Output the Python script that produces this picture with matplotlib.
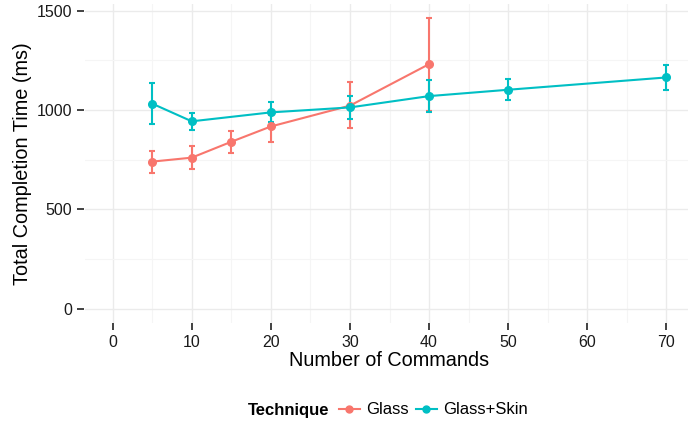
import matplotlib.pyplot as plt
from matplotlib.lines import Line2D
import numpy as np

plt.rcParams['font.family'] = ['Liberation Sans', 'DejaVu Sans']

# Data
glass_x = [5, 10, 15, 20, 30, 40]
glass_y = [740, 760, 840, 917, 1022, 1231]
glass_lo = [684, 705, 785, 837, 907, 996]
glass_hi = [795, 817, 894, 976, 1142, 1461]

skin_x = [5, 10, 20, 30, 40, 50, 70]
skin_y = [1032, 943, 988, 1013, 1070, 1102, 1164]
skin_lo = [928, 899, 938, 954, 990, 1050, 1102]
skin_hi = [1134, 985, 1038, 1071, 1152, 1158, 1226]

x_ticks = [0, 10, 20, 30, 40, 50, 60, 70]
y_ticks = [0, 500, 1000, 1500]

red = '#F8766D'
teal = '#00BFC4'

fig = plt.figure(figsize=(6.88, 4.28), dpi=100)
ax = fig.add_axes([85 / 688, 105 / 428, 609 / 688, 319 / 428])

for xs, ys, lo, hi, c in [(glass_x, glass_y, glass_lo, glass_hi, red),
                          (skin_x, skin_y, skin_lo, skin_hi, teal)]:
    ys = np.array(ys)
    err = [ys - np.array(lo), np.array(hi) - ys]
    ax.errorbar(xs, ys, yerr=err, color=c, marker='o', ms=5.5, lw=1.5,
                elinewidth=1.5, capsize=2.2, capthick=1.5, zorder=3)

ax.set_xlim(-3.5, 73.5)
ax.set_ylim(-73, 1534)
ax.set_xticks(x_ticks)
ax.set_yticks(y_ticks)
ax.set_xticks(np.arange(5, 75, 10), minor=True)
ax.set_yticks([250, 750, 1250], minor=True)
ax.grid(which='major', color='#EBEBEB', lw=1.0)
ax.grid(which='minor', color='#F5F5F5', lw=0.8)
ax.set_axisbelow(True)

for s in ax.spines.values():
    s.set_visible(False)
ax.spines['left'].set_position(('outward', 1))
ax.tick_params(which='major', length=5, width=1.3, color='#333333',
               labelsize=11.5, labelcolor='#1a1a1a', pad=3.5)
ax.tick_params(which='minor', length=0)

ax.set_xlabel('Number of Commands', fontsize=14.3, labelpad=1)
ax.set_ylabel('Total Completion Time (ms)', fontsize=14.3, labelpad=3)

# legend at the bottom
fig.text(248 / 688, 1 - 410 / 428, 'Technique', fontsize=12, fontweight='bold',
         ha='left', va='center')
handles = [Line2D([], [], color=red, marker='o', ms=5, lw=1.5),
           Line2D([], [], color=teal, marker='o', ms=5, lw=1.5)]
fig.legend(handles, ['Glass', 'Glass+Skin'], loc='center left',
           bbox_to_anchor=(339 / 688, 1 - 410 / 428), ncol=2, frameon=False,
           fontsize=12, handlelength=1.25, handletextpad=0.4, columnspacing=0.4,
           borderaxespad=0, borderpad=0)

fig.savefig('out.png', dpi=100)
